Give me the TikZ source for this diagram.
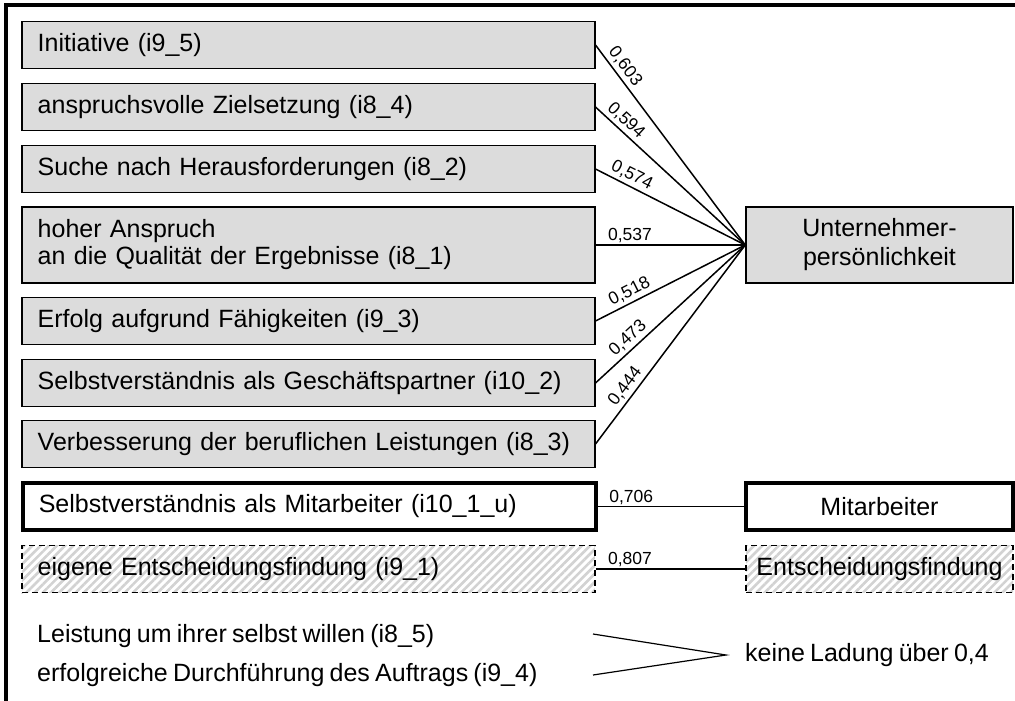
\documentclass[tikz,border=0pt]{standalone}
\usepackage{fontspec}
\setmainfont{Liberation Sans}[WordSpace=0.75]
\usetikzlibrary{patterns.meta}
\definecolor{boxgray}{HTML}{DCDCDC}
\definecolor{hatchgray}{HTML}{D2D2D2}

\begin{document}
\begin{tikzpicture}[x=1pt,y=-1pt,
  txt/.style={font=\fontsize{25}{27}\selectfont},
  item/.style={txt, anchor=west, draw=black, line width=1.5pt, fill=boxgray,
    minimum height=47pt, text width=541pt, inner xsep=16pt, inner ysep=0pt, align=left},
  boldbox/.style={fill=white, line width=3.5pt},
  hatchbox/.style={fill=none, line width=1.5pt, dash pattern=on 6pt off 4pt,
    preaction={pattern={Lines[angle=45,distance=5.8pt,line width=2.6pt]}, pattern color=hatchgray}},
  factor/.style={txt, draw=black, line width=1.5pt, fill=boxgray, minimum width=267pt,
    minimum height=47pt, inner sep=0pt, align=center},
  conn/.style={line width=1.5pt},
  lab/.style={font=\fontsize{17.5}{20}\selectfont, inner sep=1.5pt},
  slab/.style={lab, sloped, above, inner sep=3pt},
  plain/.style={txt, anchor=west, inner sep=0pt}]
\useasboundingbox (0,0) rectangle (1015,701);

% frame
\draw[line width=3.5pt] (6,701) -- (6,5) -- (1015,5);

% items
\node[item] (i1) at (21,45) {Initiative (i9\_5)};
\node[item] (i2) at (21,107) {anspruchsvolle Zielsetzung (i8\_4)};
\node[item] (i3) at (21,169) {Suche nach Herausforderungen (i8\_2)};
\node[item, minimum height=76pt] (i4) at (21,245) {hoher Anspruch\\an die Qualität der Ergebnisse (i8\_1)};
\node[item] (i5) at (21,321) {Erfolg aufgrund Fähigkeiten (i9\_3)};
\node[item] (i6) at (21,383) {\mbox{Selbstverständnis als Geschäftspartner (i10\_2)}};
\node[item] (i7) at (21,444) {\mbox{Verbesserung der beruflichen Leistungen (i8\_3)}};
\node[item, boldbox] (i8) at (21,506.5) {Selbstverständnis als Mitarbeiter (i10\_1\_u)};
\node[item, hatchbox] (i9) at (21,569) {eigene Entscheidungsfindung (i9\_1)};

% factors
\node[factor, minimum height=76pt] (U) at (879.5,245) {Unternehmer-\\[2pt]persönlichkeit};
\node[factor, boldbox] (M) at (879.5,506.5) {Mitarbeiter};
\node[factor, hatchbox] (E) at (879.5,569) {Entscheidungsfindung};

% loadings
\draw[conn] (i1.east) -- (U.west) node[slab, pos=0.14] {0,603};
\draw[conn] (i2.east) -- (U.west) node[slab, pos=0.155] {0,594};
\draw[conn] (i3.east) -- (U.west) node[slab, pos=0.21] {0,574};
\draw[conn] (i4.east) -- (U.west) node[lab, above, pos=0.23] {0,537};
\draw[conn] (i5.east) -- (U.west) node[slab, pos=0.26] {0,518};
\draw[conn] (i6.east) -- (U.west) node[slab, pos=0.265] {0,473};
\draw[conn] (i7.east) -- (U.west) node[slab, pos=0.256] {0,444};
\draw[conn, line width=1.2pt] (i8.east) -- (M.west) node[lab, above, pos=0.23] {0,706};
\draw[conn] (i9.east) -- (E.west) node[lab, above, pos=0.23] {0,807};

% items without loading
\node[plain] (l1) at (37,636) {Leistung um ihrer selbst willen (i8\_5)};
\node[plain] (l2) at (37,675) {erfolgreiche Durchführung des Auftrags (i9\_4)};
\coordinate (a1) at (593,634);
\coordinate (a2) at (593,675);
\coordinate (tip) at (726,655);
\node[plain] (none) at (745,655) {keine Ladung über 0,4};
\draw[line width=1.2pt] (a1) -- (tip) -- (a2);
\end{tikzpicture}
\end{document}
